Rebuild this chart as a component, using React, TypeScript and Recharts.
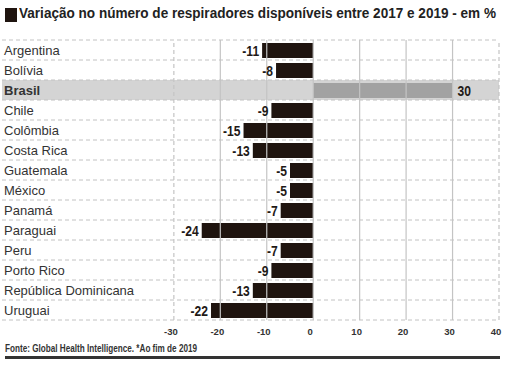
import React from 'react';
import {
  BarChart,
  Bar,
  XAxis,
  YAxis,
  Cell,
  LabelList,
  ReferenceArea,
  ReferenceLine,
} from 'recharts';

// dados
const countries = [
  'Argentina',
  'Bolívia',
  'Brasil',
  'Chile',
  'Colômbia',
  'Costa Rica',
  'Guatemala',
  'México',
  'Panamá',
  'Paraguai',
  'Peru',
  'Porto Rico',
  'República Dominicana',
  'Uruguai',
];
const variation = [-11, -8, 30, -9, -15, -13, -5, -5, -7, -24, -7, -9, -13, -22];
const xTicks = [-30, -20, -10, 0, 10, 20, 30, 40];
const highlight = 'Brasil';

const data = countries.map((country, i) => ({ country, value: variation[i] }));

const FONT = '"Liberation Sans", Arial, sans-serif';
const DARK = '#1f140f';

const RowTick = ({ x, y, payload }: any) => (
  <text
    x={x}
    y={y}
    dy="0.36em"
    textAnchor="start"
    fontFamily={FONT}
    fontSize={13}
    fontWeight={payload.value === highlight ? 'bold' : 'normal'}
    fill="#333"
  >
    {payload.value}
  </text>
);

// rótulo de valor, fonte "estreita" via scaleX
const ValueLabel = ({ x, y, width, height, value }: any) => {
  const left = Math.min(x, x + width);
  const right = Math.max(x, x + width);
  const neg = value < 0;
  const tx = neg ? left - 3 : right + 5;
  return (
    <text
      transform={`translate(${tx},${y + height / 2}) scale(0.78,1)`}
      dy="0.36em"
      textAnchor={neg ? 'end' : 'start'}
      fontFamily={FONT}
      fontSize={15.5}
      fontWeight="bold"
      fill="#1f1a17"
    >
      {value}
    </text>
  );
};

const narrow = (scale: number): React.CSSProperties => ({
  transform: `scaleX(${scale})`,
  transformOrigin: 'left top',
  whiteSpace: 'nowrap',
});

const App = () => {
  return (
    <div
      style={{
        position: 'absolute',
        top: 0,
        left: 0,
        width: 505,
        height: 365,
        background: '#fff',
        fontFamily: FONT,
        overflow: 'hidden',
      }}
    >
      <div style={{ position: 'absolute', top: 8, left: 5, width: 12, height: 14, background: DARK }} />
      <div
        style={{
          position: 'absolute',
          top: 5,
          left: 19,
          fontSize: 14.5,
          fontWeight: 'bold',
          color: '#222',
          ...narrow(0.935),
        }}
      >
        Variação no número de respiradores disponíveis entre 2017 e 2019 - em %
      </div>

      <div style={{ position: 'absolute', top: 0, left: 0 }}>
        <BarChart
          width={505}
          height={345}
          data={data}
          layout="vertical"
          margin={{ top: 40, right: 6, left: 2, bottom: 5 }}
          barSize={15}
        >
          <XAxis
            type="number"
            domain={[-67, 40]}
            ticks={xTicks}
            allowDataOverflow
            axisLine={false}
            tickLine={false}
            tickSize={0}
            tickMargin={8}
            height={20}
            dx={-3}
            tick={{ fontFamily: FONT, fontSize: 9.5, fontWeight: 'bold', fill: '#333' }}
          />
          <YAxis
            type="category"
            dataKey="country"
            width={1}
            mirror
            axisLine={false}
            tickLine={false}
            tickSize={0}
            tickMargin={2}
            interval={0}
            tick={<RowTick />}
          />
          <ReferenceArea y1={highlight} y2={highlight} fill="#d4d4d4" fillOpacity={1} stroke="none" />
          {countries.map((c) => (
            <ReferenceLine key={c} y={c} position="start" stroke="#c2c2c2" strokeDasharray="4 3" />
          ))}
          <ReferenceLine
            y={countries[countries.length - 1]}
            position="end"
            stroke="#c2c2c2"
            strokeDasharray="4 3"
          />
          {xTicks.map((t, i) => (
            <ReferenceLine
              key={t}
              x={t}
              stroke="#c4c4c4"
              strokeWidth={1.2}
              strokeDasharray={i === 0 || i === xTicks.length - 1 ? '4 3' : undefined}
            />
          ))}
          <Bar dataKey="value" isAnimationActive={false}>
            {data.map((d) => (
              <Cell key={d.country} fill={d.country === highlight ? '#a2a2a2' : DARK} />
            ))}
            <LabelList dataKey="value" content={<ValueLabel />} />
          </Bar>
        </BarChart>
      </div>

      <div
        style={{
          position: 'absolute',
          top: 343,
          left: 5,
          fontSize: 10,
          fontWeight: 'bold',
          color: '#333',
          ...narrow(0.815),
        }}
      >
        Fonte: Global Health Intelligence. *Ao fim de 2019
      </div>
      <div style={{ position: 'absolute', top: 356, left: 5, width: 495, height: 3, background: '#333' }} />
    </div>
  );
};

export default App;
